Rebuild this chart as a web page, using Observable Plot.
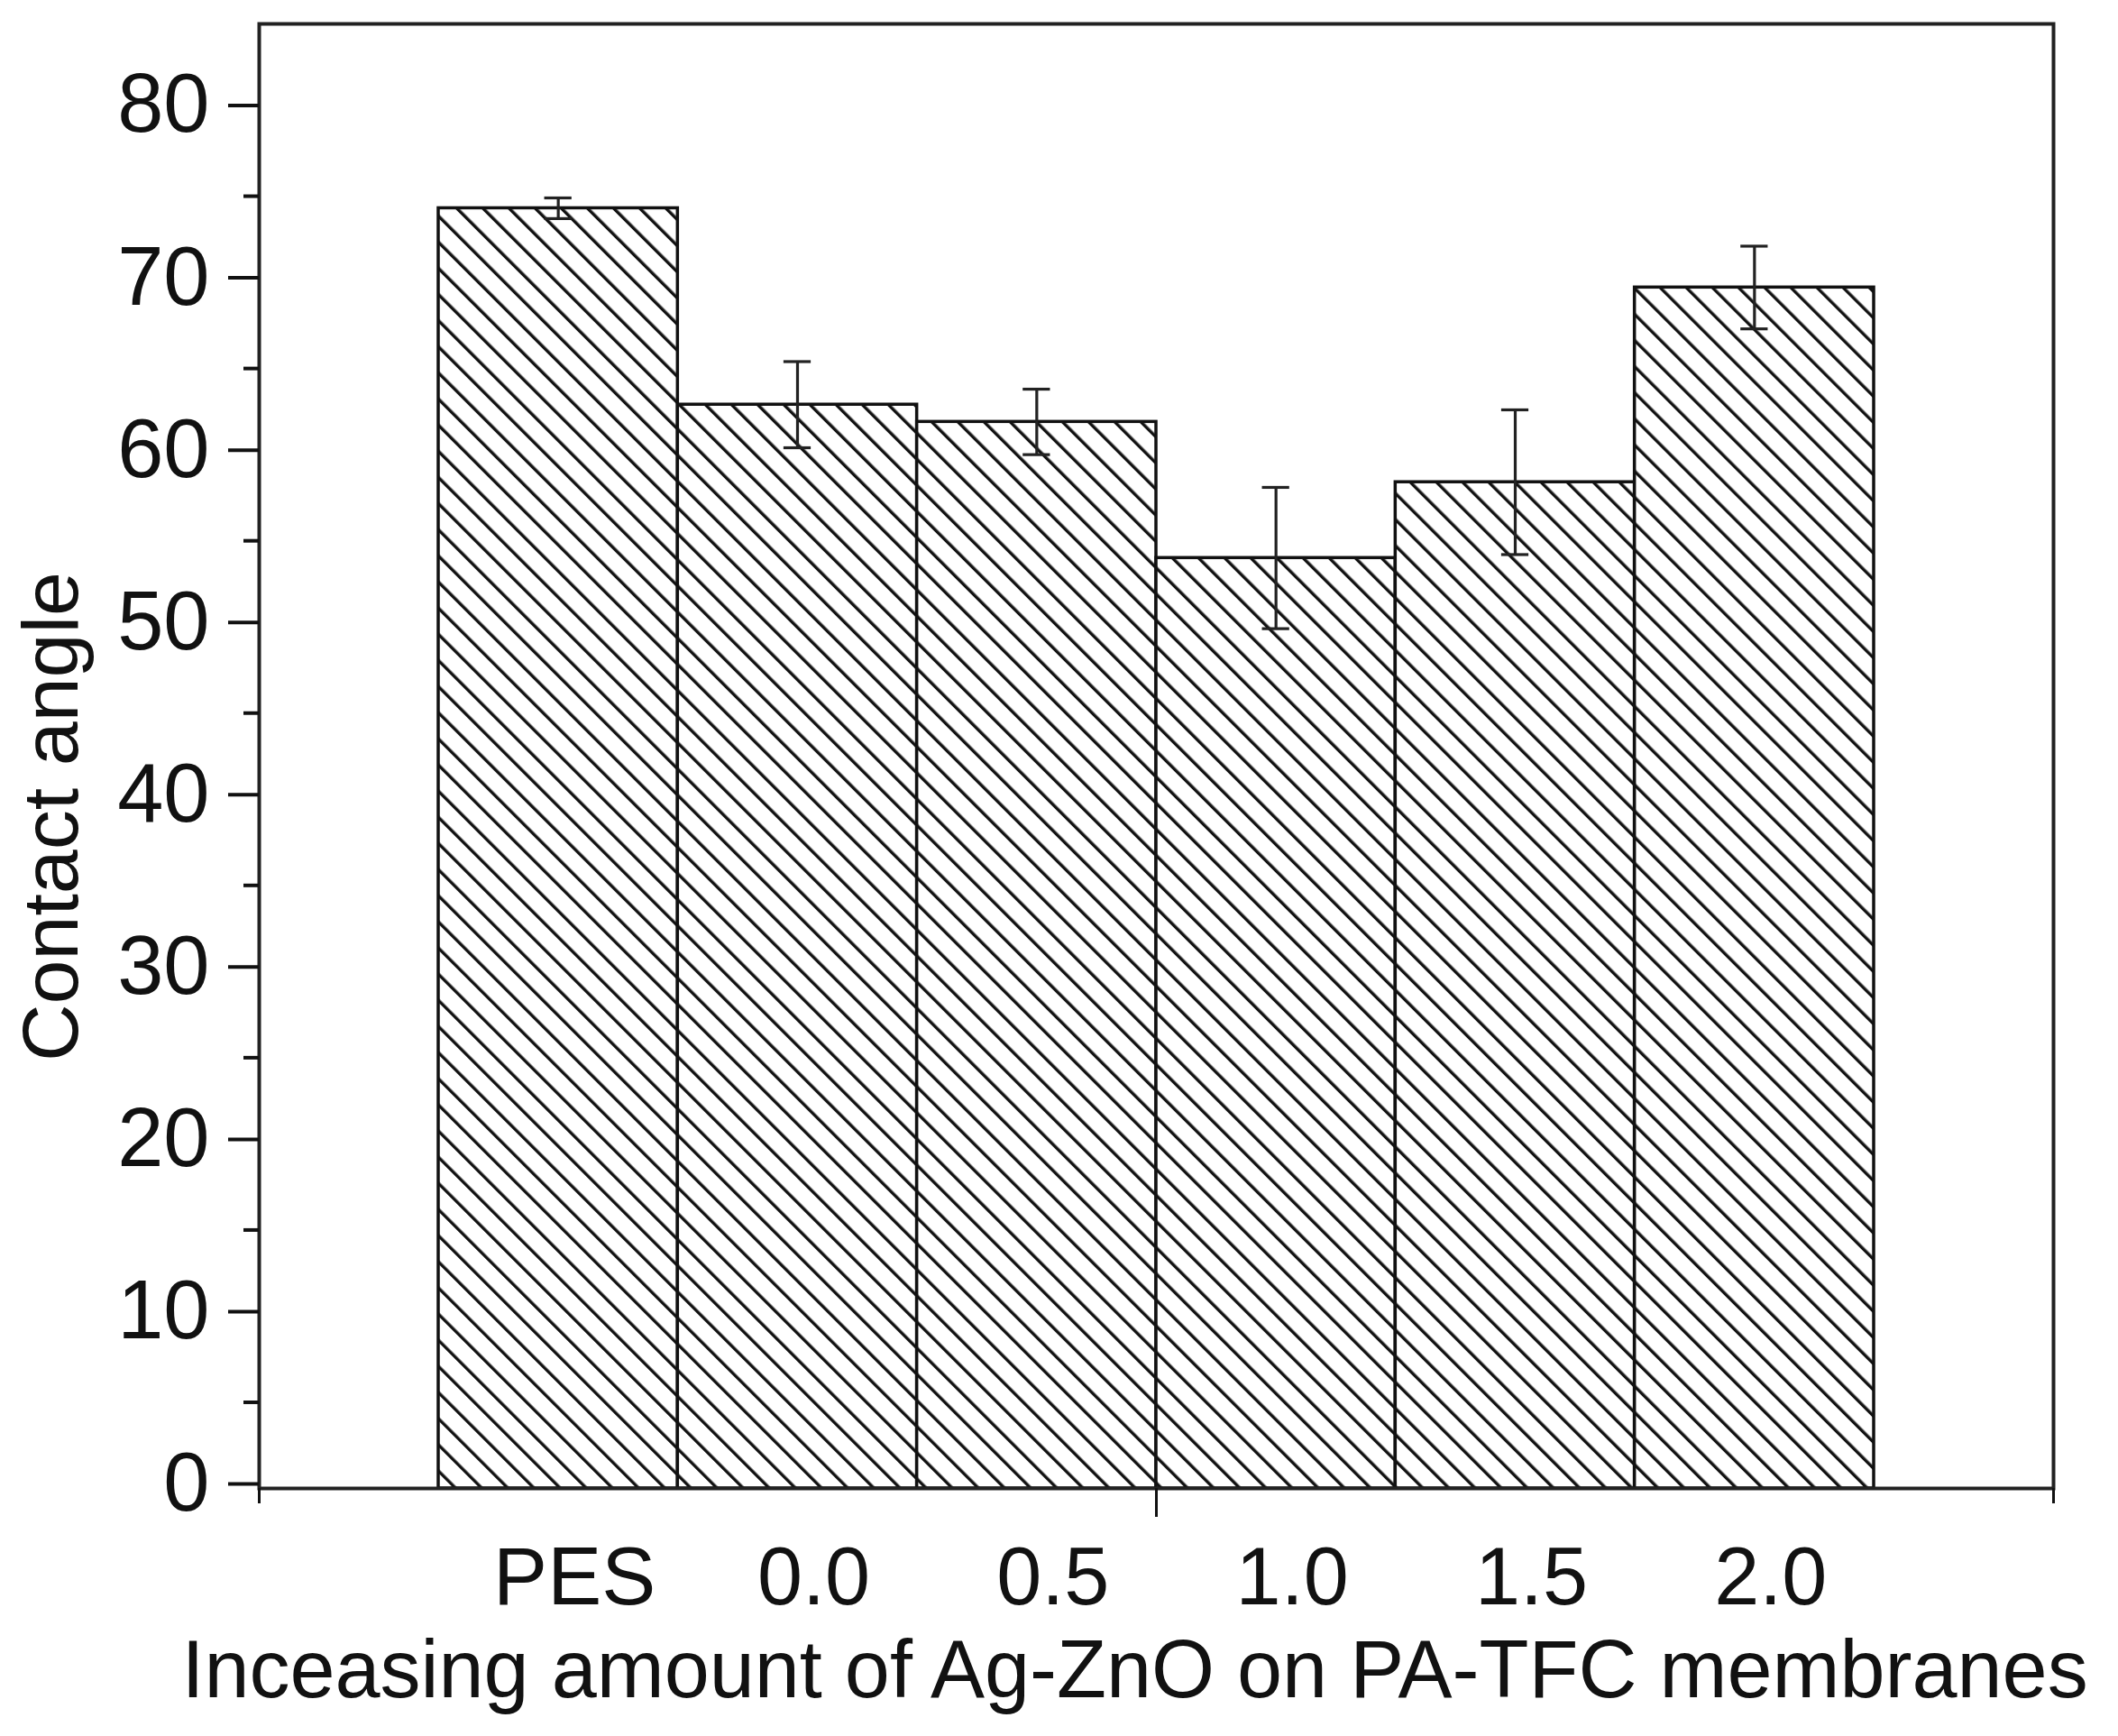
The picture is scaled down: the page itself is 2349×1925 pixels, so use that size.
<!DOCTYPE html>
<html>
<head>
<meta charset="utf-8">
<script src="https://cdn.jsdelivr.net/npm/d3@7"></script>
<script src="https://cdn.jsdelivr.net/npm/@observablehq/plot@0.6"></script>
<style>
  html, body { margin: 0; padding: 0; background: white; }
</style>
</head>
<body>
<div id="chart"></div>
<script>
// ---- data ----
const categories = ["PES", "0.0", "0.5", "1.0", "1.5", "2.0"];
const contactAngle = [74.3, 62.9, 61.9, 54.0, 58.4, 69.7];
const errorSD = [0.6, 2.5, 1.9, 4.1, 4.2, 2.4];
const yMajorTicks = [0, 10, 20, 30, 40, 50, 60, 70, 80];
const yMinorTicks = [5, 15, 25, 35, 45, 55, 65, 75];
const xTitle = "Inceasing amount of Ag-ZnO on PA-TFC membranes";
const yTitle = "Contact angle";

const data = categories.map((c, i) => ({cat: c, i, value: contactAngle[i], sd: errorSD[i]}));
const centers = data.map(d => d.i + 0.5);
const capHalf = 0.057;
const font = "'Liberation Sans', Arial, Helvetica, sans-serif";

const chart = Plot.plot({
  width: 2349,
  height: 1925,
  marginLeft: 287,
  marginRight: 72,
  marginTop: 26,
  marginBottom: 275,
  x: {domain: [-0.75, 6.75], axis: null},
  y: {domain: [0, 85], axis: null},
  style: {fontFamily: font, background: "white", color: "#111"},
  marks: [
    Plot.rect(data, {x1: d => d.i, x2: d => d.i + 1, y1: 0, y2: d => d.value,
      fill: "url(#hatch)", stroke: "#111", strokeWidth: 3.5}),
    Plot.frame({stroke: "#222", strokeWidth: 4}),
    Plot.ruleX(data, {x: d => d.i + 0.5, y1: d => d.value - d.sd, y2: d => d.value + d.sd,
      stroke: "#222", strokeWidth: 3.2}),
    Plot.ruleY(data, {x1: d => d.i + 0.5 - capHalf, x2: d => d.i + 0.5 + capHalf,
      y: d => d.value + d.sd, stroke: "#222", strokeWidth: 3.2}),
    Plot.ruleY(data, {x1: d => d.i + 0.5 - capHalf, x2: d => d.i + 0.5 + capHalf,
      y: d => d.value - d.sd, stroke: "#222", strokeWidth: 3.2}),
    Plot.axisY({ticks: yMajorTicks, tickSize: 34, tickPadding: 21, fontSize: 92,
      strokeWidth: 4, tickFormat: d => String(d), label: null, dy: -5}),
    Plot.axisY({ticks: yMinorTicks, tickSize: 17, strokeWidth: 4, tickFormat: () => "", label: null}),
    Plot.axisX({ticks: [3], tickSize: 32, strokeWidth: 3, tickFormat: () => "", label: null}),
    Plot.axisX({ticks: [-0.75, 6.75], tickSize: 17, strokeWidth: 3, tickFormat: () => "", label: null}),
    Plot.axisX({ticks: centers, tickSize: 0, tickPadding: 65, fontSize: 90, dx: 18,
      tickFormat: d => categories[Math.floor(d)], label: null}),
    Plot.text([xTitle], {text: d => d, frameAnchor: "bottom", dy: 203, dx: -24,
      fontSize: 90, lineAnchor: "middle", textAnchor: "middle", fill: "#111"}),
    Plot.text([yTitle], {text: d => d, frameAnchor: "left", rotate: -90, dx: -230, dy: 67,
      fontSize: 88, textAnchor: "middle", lineAnchor: "middle", fill: "#111"})
  ]
});

// hatch pattern definition
const ns = "http://www.w3.org/2000/svg";
const defs = document.createElementNS(ns, "defs");
const pattern = document.createElementNS(ns, "pattern");
pattern.setAttribute("id", "hatch");
pattern.setAttribute("patternUnits", "userSpaceOnUse");
pattern.setAttribute("width", "20.5");
pattern.setAttribute("height", "20.5");
pattern.setAttribute("patternTransform", "rotate(45)");
const bg = document.createElementNS(ns, "rect");
bg.setAttribute("width", "20.5");
bg.setAttribute("height", "20.5");
bg.setAttribute("fill", "white");
const line = document.createElementNS(ns, "line");
line.setAttribute("x1", "0");
line.setAttribute("y1", "10");
line.setAttribute("x2", "20.5");
line.setAttribute("y2", "10");
line.setAttribute("stroke", "#111");
line.setAttribute("stroke-width", "3.4");
pattern.appendChild(bg);
pattern.appendChild(line);
defs.appendChild(pattern);
chart.insertBefore(defs, chart.firstChild);

document.getElementById("chart").appendChild(chart);
</script>
</body>
</html>
